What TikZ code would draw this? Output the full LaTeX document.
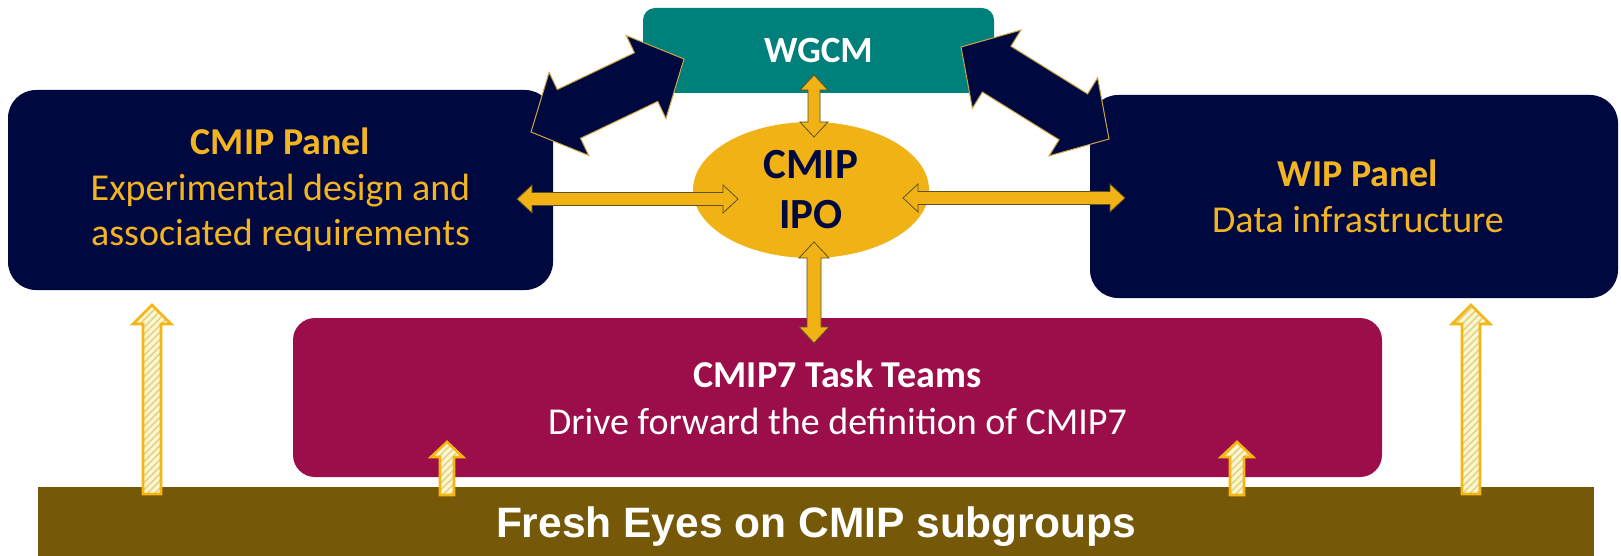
\documentclass[tikz,border=0pt]{standalone}
\usepackage{fontspec}
\newfontfamily\calibri{Carlito}
\newfontfamily\arialfam{Liberation Sans}
\usetikzlibrary{calc,shapes.geometric,patterns.meta}
\definecolor{navy}{RGB}{0,8,64}
\definecolor{goldtxt}{RGB}{242,180,32}
\definecolor{ipogold}{RGB}{240,178,20}
\definecolor{tealbox}{RGB}{0,128,122}
\definecolor{magbox}{RGB}{155,14,74}
\definecolor{olive}{RGB}{118,89,8}
\definecolor{arrowline}{RGB}{95,80,40}
\definecolor{hatchfill}{RGB}{253,247,205}
\definecolor{hatchline}{RGB}{226,210,140}
\definecolor{hatchedge}{RGB}{245,182,20}
\newcommand\dblarrow[6]{%
  \path ($(#2)!#6!(#3)$) coordinate (ha) ($(#3)!#6!(#2)$) coordinate (hb);
  \draw[#1] (#2) -- ($(ha)!#5!90:(#3)$) -- ($(ha)!#4!90:(#3)$) -- ($(hb)!#4!-90:(#2)$)
    -- ($(hb)!#5!-90:(#2)$) -- (#3) -- ($(hb)!#5!90:(#2)$) -- ($(hb)!#4!90:(#2)$)
    -- ($(ha)!#4!-90:(#3)$) -- ($(ha)!#5!-90:(#3)$) -- cycle;}
\newcommand\sglarrow[6]{%
  \path ($(#3)!#6!(#2)$) coordinate (sh);
  \draw[#1] (#3) -- ($(sh)!#5!90:(#2)$) -- ($(sh)!#4!90:(#2)$) -- ($(#2)!#4!-90:(#3)$)
    -- ($(#2)!#4!90:(#3)$) -- ($(sh)!#4!-90:(#2)$) -- ($(sh)!#5!-90:(#2)$) -- cycle;}
\tikzset{
  panel/.style={fill=navy, rounded corners=28pt, text=goldtxt, align=center, inner sep=0pt,
    font=\calibri\fontsize{38}{45.5}\selectfont},
  topbox/.style={fill=tealbox, rounded corners=12pt, text=white, inner sep=0pt,
    font=\calibri\bfseries\fontsize{37}{46}\selectfont},
  ipostyle/.style={ellipse, fill=ipogold, text=navy, align=center, inner sep=0pt,
    font=\calibri\bfseries\fontsize{43}{50}\selectfont},
  taskbox/.style={fill=magbox, rounded corners=22pt, text=white, align=center, inner sep=0pt,
    font=\calibri\fontsize{38}{47}\selectfont},
  barbox/.style={fill=olive, text=white, inner sep=0pt, text height=31pt, text depth=0pt,
    font=\arialfam\bfseries\fontsize{42.5}{50}\selectfont},
  navyarrow/.style={fill=navy, draw={rgb,255:red,205;green,165;blue,70}, line width=1pt, line join=miter},
  goldarrow/.style={fill=ipogold, draw=arrowline, line width=0.8pt, line join=miter},
  hatcharrow/.style={draw=hatchedge, line width=2.6pt, line join=miter, preaction={fill=hatchfill},
    pattern={Lines[angle=45,distance=5pt,line width=1.6pt]}, pattern color=hatchline}
}
\begin{document}
\begin{tikzpicture}[x=1pt,y=-1pt]
\useasboundingbox (0,0) rectangle (1621,556);
\fill[white] (0,0) rectangle (1621,556);
% boxes
\node[topbox, minimum width=351pt, minimum height=85pt] (wgcm) at (818.5,50.5) {WGCM};
\node[panel, minimum width=545pt, minimum height=200pt] (cmip) at (280.5,190)
  {{\bfseries CMIP Panel}\\Experimental design and\\associated requirements};
\node[panel, minimum width=528pt, minimum height=203pt] (wip) at (1354,196.5)
  {\hspace*{8pt}{\bfseries WIP Panel}\\\hspace*{8pt}Data infrastructure};
\node[ipostyle, minimum width=236pt, minimum height=136pt] (ipo) at (811,190) {CMIP\\IPO};
\node[taskbox, minimum width=1089pt, minimum height=159pt] (task) at (837.5,397.5)
  {{\bfseries CMIP7 Task Teams}\\Drive forward the definition of CMIP7};
\node[barbox, minimum width=1556pt, minimum height=69pt] (bar) at (816,521.5)
  {Fresh Eyes on CMIP subgroups};
% connector end points
\coordinate (nl1) at (531,132); \coordinate (nl2) at (684,59);
\coordinate (nr1) at (961,47);  \coordinate (nr2) at (1109,139);
\coordinate (gl1) at (517,199); \coordinate (gl2) at (738,199);
\coordinate (gr1) at (903,198); \coordinate (gr2) at (1125,198);
\coordinate (gv1) at (814,75);  \coordinate (gv2) at (814,137);
\coordinate (gd1) at (814,242); \coordinate (gd2) at (814,343);
\coordinate (h1a) at (152,494); \coordinate (h1b) at (152,305);
\coordinate (h2a) at (447,495); \coordinate (h2b) at (447,442);
\coordinate (h3a) at (1237,495); \coordinate (h3b) at (1237,442);
\coordinate (h4a) at (1471,494); \coordinate (h4b) at (1471,305);
% navy double arrows
\dblarrow{navyarrow}{nl1}{nl2}{27pt}{46pt}{42pt}
\dblarrow{navyarrow}{nr1}{nr2}{27pt}{46pt}{42pt}
% gold double arrows
\dblarrow{goldarrow}{gl1}{gl2}{6.5pt}{14pt}{15pt}
\dblarrow{goldarrow}{gr1}{gr2}{6.5pt}{14pt}{15pt}
\dblarrow{goldarrow}{gv1}{gv2}{6pt}{14pt}{15pt}
\dblarrow{goldarrow}{gd1}{gd2}{7pt}{15pt}{16pt}
% hatched up arrows
\sglarrow{hatcharrow}{h1a}{h1b}{9pt}{19pt}{19pt}
\sglarrow{hatcharrow}{h2a}{h2b}{7pt}{16pt}{15pt}
\sglarrow{hatcharrow}{h3a}{h3b}{7pt}{16pt}{15pt}
\sglarrow{hatcharrow}{h4a}{h4b}{9pt}{19pt}{19pt}
\end{tikzpicture}
\end{document}
